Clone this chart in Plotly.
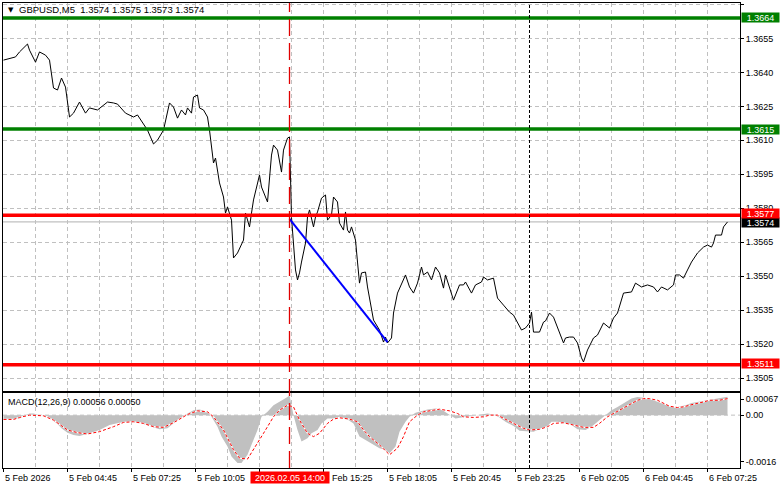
import plotly.graph_objects as go

# ---------------- data ----------------
# bar index = number of 5-minute bars since 5 Feb 2026 02:05
price_bars = [0,4,6,8,12,13,15,16,18,21,23,25,27,29,31,33,35,38,41,43,47,52,55,57,61,65,67,70,72,75,77,80,82,83,85,87,89,91,92,94,95,97,98,100,102,103,105,106,108,110,111,112,114,115,117,120,121,123,124,125,128,129,132,134,135,137,139,140,142,143,144,145,146,147,148,149,151,152,153,155,156,157,159,161,162,164,165,167,168,170,171,172,173,174,176,177,178,179,181,182,184,185,188,190,191,192,194,195,197,200,201,203,205,207,209,210,212,214,216,218,220,221,223,225,228,230,231,234,236,239,240,242,245,247,250,253,255,257,259,261,263,264,265,268,270,271,273,275,277,280,281,283,285,287,289,290,292,295,297,299,300,303,305,307,309,310,314,316,319,322,325,327,329,332,335,336,338,340,342,344,347,350,352,354,355,356,359,360,362]
close_prices = [1.36454,1.36463,1.36468,1.36490,1.36525,1.36498,1.36463,1.36445,1.36490,1.36476,1.36454,1.36331,1.36322,1.36375,1.36335,1.36203,1.36220,1.36269,1.36220,1.36243,1.36234,1.36269,1.36265,1.36260,1.36220,1.36203,1.36212,1.36168,1.36145,1.36084,1.36101,1.36145,1.36234,1.36265,1.36247,1.36198,1.36234,1.36212,1.36243,1.36220,1.36291,1.36300,1.36243,1.36234,1.36203,1.36145,1.36000,1.36022,1.35912,1.35850,1.35779,1.35806,1.35748,1.35581,1.35603,1.35660,1.35779,1.35718,1.35779,1.35837,1.35947,1.35894,1.35828,1.36035,1.36079,1.36057,1.35960,1.36057,1.36110,1.36115,1.35760,1.35629,1.35528,1.35484,1.35515,1.35563,1.35647,1.35762,1.35793,1.35718,1.35762,1.35784,1.35845,1.35859,1.35748,1.35770,1.35850,1.35828,1.35735,1.35704,1.35784,1.35704,1.35691,1.35718,1.35660,1.35563,1.35470,1.35515,1.35519,1.35453,1.35351,1.35307,1.35263,1.35210,1.35232,1.35206,1.35228,1.35338,1.35426,1.35492,1.35506,1.35453,1.35426,1.35470,1.35541,1.35506,1.35519,1.35484,1.35541,1.35515,1.35448,1.35506,1.35453,1.35395,1.35462,1.35462,1.35475,1.35426,1.35462,1.35475,1.35497,1.35484,1.35492,1.35404,1.35373,1.35342,1.35329,1.35298,1.35263,1.35272,1.35294,1.35342,1.35254,1.35254,1.35298,1.35303,1.35338,1.35320,1.35272,1.35206,1.35228,1.35232,1.35232,1.35206,1.35140,1.35122,1.35175,1.35228,1.35241,1.35272,1.35294,1.35272,1.35316,1.35338,1.35404,1.35426,1.35431,1.35470,1.35453,1.35462,1.35453,1.35431,1.35453,1.35440,1.35462,1.35506,1.35506,1.35492,1.35528,1.35563,1.35603,1.35629,1.35638,1.35629,1.35647,1.35682,1.35682,1.35718,1.35740]

hist_bars = [0,5,8,10,13,15,18,22,24,27,29,32,35,38,43,48,53,58,63,68,73,78,82,85,88,92,95,98,102,104,107,109,112,114,117,119,122,124,127,129,132,135,138,142,143,145,147,149,152,154,157,159,162,165,168,172,175,178,181,184,188,191,193,196,198,201,203,206,209,212,216,219,222,226,229,233,237,242,245,248,251,255,258,262,265,268,272,274,277,281,284,287,291,294,297,301,304,307,311,314,317,321,324,327,331,334,337,341,344,347,351,354,357,361,362]
hist_values = [-0.00013,-0.00013,-0.0001,-0.00003,0.00005,0.00005,0.0,-0.00003,-0.00013,-0.00027,-0.0004,-0.00053,-0.0006,-0.00063,-0.00055,-0.00045,-0.0003,-0.00023,-0.0002,-0.00023,-0.00033,-0.00043,-0.0004,-0.00025,-0.0001,0.00005,0.00015,0.00017,0.0001,-0.00005,-0.00035,-0.00065,-0.00095,-0.00125,-0.00145,-0.00145,-0.0012,-0.0009,-0.00045,-0.00005,0.0001,0.0003,0.0004,0.00055,0.0006,0.0,-0.00045,-0.0008,-0.0007,-0.00055,-0.00045,-0.00025,-0.0001,-0.0001,-0.00005,-0.00013,-0.00025,-0.00065,-0.00075,-0.00085,-0.001,-0.00105,-0.00115,-0.00095,-0.0005,-0.0002,-0.00005,0.00007,0.00013,0.00017,0.0002,0.00017,0.00005,-0.0001,-0.00007,-0.00003,0.0,0.00005,0.00002,-0.00007,-0.0002,-0.00033,-0.00047,-0.0005,-0.0005,-0.00043,-0.00033,-0.0002,-0.0002,-0.00025,-0.0003,-0.00043,-0.00045,-0.00035,-0.0002,0.0,0.00015,0.00025,0.0004,0.0005,0.00055,0.00052,0.00047,0.0004,0.00033,0.00025,0.00025,0.0003,0.00037,0.0004,0.00045,0.00047,0.0005,0.00053,0.00056]

signal_bars = [0,5,8,13,20,25,32,37,42,48,55,60,65,70,75,80,85,92,97,102,105,110,115,118,122,125,130,135,138,142,145,148,152,155,158,162,165,168,173,177,180,183,188,193,197,200,203,207,210,215,218,223,227,230,235,240,243,247,250,255,260,263,268,272,275,280,285,290,295,298,302,305,310,313,317,320,323,327,330,333,337,340,343,347,350,353,358,362]
signal_values = [-0.00013,-0.00013,-0.00007,0.0,-0.00002,-0.00015,-0.00045,-0.00053,-0.00057,-0.0005,-0.00035,-0.00022,-0.0002,-0.00025,-0.00035,-0.00037,-0.00023,0.00002,0.00013,0.0001,-0.00005,-0.00045,-0.00105,-0.0013,-0.00133,-0.00105,-0.00055,-0.00005,0.00015,0.0003,0.00025,-0.00015,-0.00055,-0.00065,-0.00055,-0.00025,-0.00012,-0.00008,-0.00012,-0.0002,-0.00045,-0.00065,-0.0009,-0.0012,-0.001,-0.00065,-0.0002,0.0,0.0001,0.00015,0.00018,0.00013,0.00005,-0.00005,-0.00007,-0.00005,0.0,0.0,-0.0001,-0.00025,-0.0004,-0.00045,-0.00043,-0.00035,-0.00025,-0.00023,-0.0003,-0.00037,-0.00037,-0.00025,-0.00005,0.00005,0.0002,0.0003,0.00045,0.0005,0.0005,0.00045,0.00037,0.00027,0.00023,0.00025,0.0003,0.00035,0.0004,0.00045,0.00045,0.0005]

trend_bars = [143, 192]
trend_prices = [1.35753, 1.35210]

green_levels = [1.3664, 1.3615]
red_levels = [1.3577, 1.3511]
bid_level = 1.3574
event_bar = 143          # 2026.02.05 14:00
day_break_bar = 263      # 6 Feb 00:00

time_tick_bars = [0, 32, 64, 96, 128, 160, 192, 224, 256, 288, 320, 352]
time_tick_labels = ["5 Feb 2026", "5 Feb 04:45", "5 Feb 07:25", "5 Feb 10:05", "",
                    "Feb 15:25", "5 Feb 18:05", "5 Feb 20:45", "5 Feb 23:25", "6 Feb 02:05",
                    "6 Feb 04:45", "6 Feb 07:25"]
grid_minor_bars = [16, 48, 80, 112, 144, 176, 208, 240, 272, 304, 336, 368]
price_ticks = [1.3505, 1.3520, 1.3535, 1.3550, 1.3565, 1.3580, 1.3595, 1.3610, 1.3625, 1.3640, 1.3655, 1.3670]
macd_tick_vals = [0.00048, 0.0, -0.0014]
macd_tick_text = ["0.00067", "0.00", "-0.0016"]

# ---------------- layout helpers ----------------
W, H = 781, 489
L, R, T, B = 3, 41, 3, 21
def xp(px):
    return (px - L) / (W - L - R)
def yp(py):
    return (H - B - py) / (H - T - B)

FONT = "Liberation Sans, Arial, sans-serif"
GRID = "#C0C0C0"
DASH = "4px,3px"

fig = go.Figure()

fig.add_trace(go.Scatter(x=hist_bars, y=hist_values, xaxis="x2", yaxis="y2", mode="lines",
                         line=dict(width=0, color="#C0C0C0"), fill="tozeroy",
                         fillcolor="#C0C0C0", hoverinfo="skip"))
fig.add_trace(go.Scatter(x=signal_bars, y=signal_values, xaxis="x2", yaxis="y2", mode="lines",
                         line=dict(width=1.2, color="white"), hoverinfo="skip"))
fig.add_trace(go.Scatter(x=signal_bars, y=signal_values, xaxis="x2", yaxis="y2", mode="lines",
                         line=dict(width=1, color="#FF0000", dash="3px,2px"), hoverinfo="skip"))

fig.add_trace(go.Scatter(x=price_bars, y=close_prices, mode="lines",
                         line=dict(width=1, color="black")))
fig.add_trace(go.Scatter(x=trend_bars, y=trend_prices, mode="lines",
                         line=dict(width=2, color="#0000FF")))

shapes = []
shapes.append(dict(type="line", xref="paper", x0=0, x1=1, yref="y2", y0=0, y1=0,
                   line=dict(color=GRID, width=1, dash=DASH), layer="below"))
shapes.append(dict(type="line", xref="paper", x0=0, x1=1, yref="y", y0=bid_level, y1=bid_level,
                   line=dict(color="#C0C0C0", width=1.2), layer="below"))
for lv in green_levels:
    shapes.append(dict(type="line", xref="paper", x0=0, x1=1, yref="y", y0=lv, y1=lv,
                       line=dict(color="#008000", width=3.5), layer="above"))
for lv in red_levels:
    shapes.append(dict(type="line", xref="paper", x0=0, x1=1, yref="y", y0=lv, y1=lv,
                       line=dict(color="#FF0000", width=3.5), layer="above"))
shapes.append(dict(type="line", xref="x", x0=event_bar, x1=event_bar, yref="paper", y0=0, y1=1,
                   line=dict(color="#E00000", width=1.3, dash="17px,7px"), layer="above"))
shapes.append(dict(type="line", xref="x", x0=day_break_bar, x1=day_break_bar, yref="paper", y0=0, y1=1,
                   line=dict(color="black", width=1, dash="3px,2px"), layer="above"))

ann = []
ann.append(dict(text="▼", xref="paper", yref="paper", x=xp(6), y=yp(10), xanchor="left",
                yanchor="middle", showarrow=False, font=dict(size=7, color="black", family="DejaVu Sans")))
ann.append(dict(text="GBPUSD,M5&#160; 1.3574 1.3575 1.3573 1.3574", xref="paper", yref="paper",
                x=xp(17), y=yp(10), xanchor="left", yanchor="middle", showarrow=False,
                font=dict(size=9.5, color="black", family=FONT)))
ann.append(dict(text="MACD(12,26,9) 0.00056 0.00050", xref="paper", yref="paper",
                x=xp(6), y=yp(401.5), xanchor="left", yanchor="middle", showarrow=False,
                font=dict(size=9, color="black", family=FONT)))
for b, t in zip(time_tick_bars, time_tick_labels):
    if not t:
        continue
    shift = 6.5 if t.startswith("Feb") else -1
    ann.append(dict(text=t, xref="x2", yref="paper", x=b, y=yp(478), xanchor="left",
                    yanchor="middle", showarrow=False, xshift=shift,
                    font=dict(size=9, color="black", family=FONT)))
ann.append(dict(text="2026.02.05 14:00", xref="x2", yref="paper", x=event_bar, y=yp(477.5),
                xanchor="center", yanchor="middle", showarrow=False, width=78, height=11,
                bgcolor="#FF0000", borderpad=0, font=dict(size=9, color="white", family=FONT)))
def level_label(val, color, dy=0.0):
    return dict(text=f"{val:.4f}", xref="paper", yref="y", x=1, y=val, xanchor="left",
                yanchor="middle", xshift=1, yshift=dy, showarrow=False, width=37, height=9,
                align="center", valign="middle",
                bgcolor=color, borderpad=0, font=dict(size=9, color="white", family=FONT))
ann.append(level_label(bid_level, "black", -0.5))
for lv in green_levels:
    ann.append(level_label(lv, "#008000"))
for lv in red_levels:
    ann.append(level_label(lv, "#FF0000", 1.5))

xcommon = dict(range=[-0.25, 368.25], showgrid=True, gridcolor=GRID, griddash=DASH, gridwidth=1,
               tickmode="array", tickvals=time_tick_bars, showticklabels=False,
               minor=dict(tickvals=grid_minor_bars, showgrid=True, gridcolor=GRID, griddash=DASH,
                          gridwidth=1, ticks=""),
               showline=True, linecolor="black", linewidth=1, mirror=True, zeroline=False,
               automargin=False, fixedrange=True)

fig.update_layout(
    width=W, height=H, template="none",
    paper_bgcolor="white", plot_bgcolor="white",
    margin=dict(l=L, r=R, t=T, b=B, pad=0),
    showlegend=False,
    xaxis=dict(xcommon, anchor="y", domain=[0, 1], ticks=""),
    xaxis2=dict(xcommon, anchor="y2", domain=[0, 1], ticks="outside", ticklen=3, tickcolor="black"),
    yaxis=dict(domain=[yp(391), 1], range=[1.34994, 1.36706], side="right", anchor="x",
               tickmode="array", tickvals=price_ticks, ticktext=[f"{v:.4f}" for v in price_ticks],
               ticks="outside", ticklen=3, tickcolor="black",
               tickfont=dict(size=9, color="black", family=FONT),
               showgrid=True, gridcolor=GRID, griddash=DASH, gridwidth=1,
               showline=True, linecolor="black", linewidth=1, mirror=True, zeroline=False,
               automargin=False, fixedrange=True),
    yaxis2=dict(domain=[0, yp(393)], range=[-0.0016, 0.00067], side="right", anchor="x2",
                tickmode="array", tickvals=macd_tick_vals, ticktext=macd_tick_text,
                ticks="outside", ticklen=3, tickcolor="black",
                tickfont=dict(size=9, color="black", family=FONT),
                showgrid=False, showline=True, linecolor="black", linewidth=1, mirror=True,
                zeroline=False, automargin=False, fixedrange=True),
    shapes=shapes,
    annotations=ann,
)

fig.write_html("out.html", config={"displayModeBar": False},
               post_script="document.body.style.margin='0';document.body.style.overflow='hidden';")
